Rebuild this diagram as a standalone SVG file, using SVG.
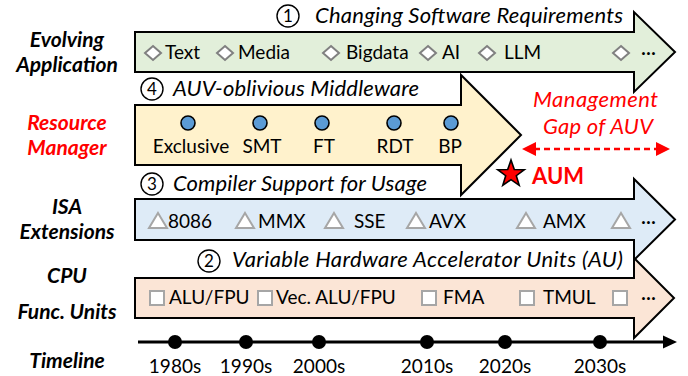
<svg xmlns="http://www.w3.org/2000/svg" width="688" height="376" viewBox="0 0 688 376">
  <style>
    text { font-family: "Lato", "Liberation Sans", sans-serif; fill: #000; }
    .row { font-size: 19px; }
    .side { font-size: 21px; font-weight: bold; font-style: italic; text-anchor: middle; }
    .head { font-size: 22px; font-style: italic; }
    .num { font-size: 17px; text-anchor: middle; }
    .ring { fill: none; stroke: #000; stroke-width: 1.4; }
    .band { stroke: #000; stroke-width: 2; stroke-linejoin: miter; }
    .dia { fill: #fff; stroke: #808080; stroke-width: 2; }
    .tri { fill: #fff; stroke: #a6a6a6; stroke-width: 2; }
    .sq { fill: #fff; stroke: #a6a6a6; stroke-width: 2; }
    .dot { fill: #5b9bd5; stroke: #000; stroke-width: 1.6; }
    .mid { text-anchor: middle; }
    .red { fill: #ff0000; }
  </style>

  <!-- row labels -->
  <g id="labels">
    <text class="side" x="67" y="47">Evolving</text>
    <text class="side" x="67" y="72">Application</text>
    <text class="side red" x="67" y="130">Resource</text>
    <text class="side red" x="67" y="155">Manager</text>
    <text class="side" x="67" y="214">ISA</text>
    <text class="side" x="67" y="239">Extensions</text>
    <text class="side" x="67" y="283">CPU</text>
    <text class="side" x="67" y="319">Func. Units</text>
    <text class="side" x="67" y="368">Timeline</text>
  </g>

  <!-- 1: applications -->
  <g id="applications">
    <path class="band" fill="#e2efda" d="M135,32 H634 V12 L675,52 L634,92 V72 H135 Z"/>
    <circle class="ring" cx="288" cy="16" r="11"/>
    <text class="num" x="288" y="22">1</text>
    <text class="head" x="315" y="23" textLength="308">Changing Software Requirements</text>
    <g class="row">
      <path class="dia" d="M153,46 L161,53 L153,60 L145,53 Z"/>
      <text x="165" y="59">Text</text>
      <path class="dia" d="M225,46 L233,53 L225,60 L217,53 Z"/>
      <text x="238" y="59">Media</text>
      <path class="dia" d="M331,46 L339,53 L331,60 L323,53 Z"/>
      <text x="346" y="59">Bigdata</text>
      <path class="dia" d="M428,46 L436,53 L428,60 L420,53 Z"/>
      <text x="442" y="59">AI</text>
      <path class="dia" d="M487,46 L495,53 L487,60 L479,53 Z"/>
      <text x="504" y="59">LLM</text>
      <path class="dia" d="M621,46 L629,53 L621,60 L613,53 Z"/>
      <text x="641" y="59">···</text>
    </g>
  </g>

  <!-- 3: ISA extensions -->
  <g id="isa">
    <path class="band" fill="#deebf7" d="M135,199 H634 V179 L675,219.5 L634,260 V240 H135 Z"/>
    <circle class="ring" cx="152" cy="184" r="11"/>
    <text class="num" x="152" y="190">3</text>
    <text class="head" x="173" y="191" textLength="254">Compiler Support for Usage</text>
    <g class="row">
      <path class="tri" d="M158,213 L167,228 L149,228 Z"/>
      <text x="168" y="228">8086</text>
      <path class="tri" d="M245,213 L254,228 L236,228 Z"/>
      <text x="258" y="228">MMX</text>
      <path class="tri" d="M334,213 L343,228 L325,228 Z"/>
      <text x="354" y="228">SSE</text>
      <path class="tri" d="M416,213 L425,228 L407,228 Z"/>
      <text x="429" y="228">AVX</text>
      <path class="tri" d="M526,213 L535,228 L517,228 Z"/>
      <text x="543" y="228">AMX</text>
      <path class="tri" d="M621,213 L630,228 L612,228 Z"/>
      <text x="641" y="228">···</text>
    </g>
  </g>

  <!-- 4: middleware -->
  <g id="middleware">
    <path class="band" fill="#fff2cc" d="M135,105 H461 V75 L521,135 L461,195 V165 H135 Z"/>
    <circle class="ring" cx="152" cy="89" r="11"/>
    <text class="num" x="152" y="95">4</text>
    <text class="head" x="173" y="96" textLength="246">AUV-oblivious Middleware</text>
    <g class="row">
      <circle class="dot" cx="188" cy="123" r="7"/>
      <text class="mid" x="191" y="153">Exclusive</text>
      <circle class="dot" cx="260" cy="123" r="7"/>
      <text class="mid" x="262" y="153">SMT</text>
      <circle class="dot" cx="322" cy="123" r="7"/>
      <text class="mid" x="324" y="153">FT</text>
      <circle class="dot" cx="394" cy="123" r="7"/>
      <text class="mid" x="395" y="153">RDT</text>
      <circle class="dot" cx="451" cy="123" r="7"/>
      <text class="mid" x="450" y="153">BP</text>
    </g>
  </g>

  <!-- 2: hardware units -->
  <g id="units">
    <path class="band" fill="#fbe5d6" d="M135,278 H634 V258 L674,298 L634,338 V318 H135 Z"/>
    <circle class="ring" cx="209" cy="261" r="11"/>
    <text class="num" x="209" y="267">2</text>
    <text class="head" x="232" y="267" textLength="391">Variable Hardware Accelerator Units (AU)</text>
    <g class="row">
      <rect class="sq" x="150" y="291" width="14" height="14"/>
      <text x="169" y="304">ALU/FPU</text>
      <rect class="sq" x="258" y="291" width="14" height="14"/>
      <text x="276" y="304">Vec. ALU/FPU</text>
      <rect class="sq" x="422" y="291" width="14" height="14"/>
      <text x="443" y="304">FMA</text>
      <rect class="sq" x="520" y="291" width="14" height="14"/>
      <text x="543" y="304">TMUL</text>
      <rect class="sq" x="613" y="291" width="14" height="14"/>
      <text x="641" y="304">···</text>
    </g>
  </g>

  <!-- management gap and AUM -->
  <g id="gap">
    <text class="head red" x="533" y="107" textLength="125">Management</text>
    <text class="head red" x="543" y="134" textLength="110">Gap of AUV</text>
  </g>
  <g id="connectors">
    <line x1="534" y1="149" x2="658" y2="149" stroke="#ff0000" stroke-width="2.5" stroke-dasharray="6 4"/>
    <path fill="#ff0000" d="M522,149 L536,142 L536,156 Z"/>
    <path fill="#ff0000" d="M670,149 L656,142 L656,156 Z"/>
  </g>
  <g id="aum">
    <path fill="#ff0000" stroke="#000" stroke-width="1.6" stroke-linejoin="miter" d="M511,160 L514.3,169.5 L524.3,169.7 L516.3,175.7 L519.2,185.3 L511,179.6 L502.8,185.3 L505.7,175.7 L497.7,169.7 L507.7,169.5 Z"/>
    <text x="532" y="184" style="font-size:22px;font-weight:bold" class="red">AUM</text>
  </g>

  <!-- timeline -->
  <g id="timeline">
    <line x1="138" y1="342" x2="665" y2="342" stroke="#000" stroke-width="3"/>
    <path d="M677,342 L663,335.5 L663,348.5 Z" fill="#000"/>
    <g fill="#000">
      <circle cx="175" cy="342" r="7"/>
      <circle cx="246" cy="342" r="7"/>
      <circle cx="319" cy="342" r="7"/>
      <circle cx="427" cy="342" r="7"/>
      <circle cx="505" cy="342" r="7"/>
      <circle cx="600" cy="342" r="7"/>
    </g>
    <g class="row">
      <text class="mid" x="175" y="373">1980s</text>
      <text class="mid" x="246" y="373">1990s</text>
      <text class="mid" x="319" y="373">2000s</text>
      <text class="mid" x="427" y="373">2010s</text>
      <text class="mid" x="505" y="373">2020s</text>
      <text class="mid" x="600" y="373">2030s</text>
    </g>
  </g>
</svg>
